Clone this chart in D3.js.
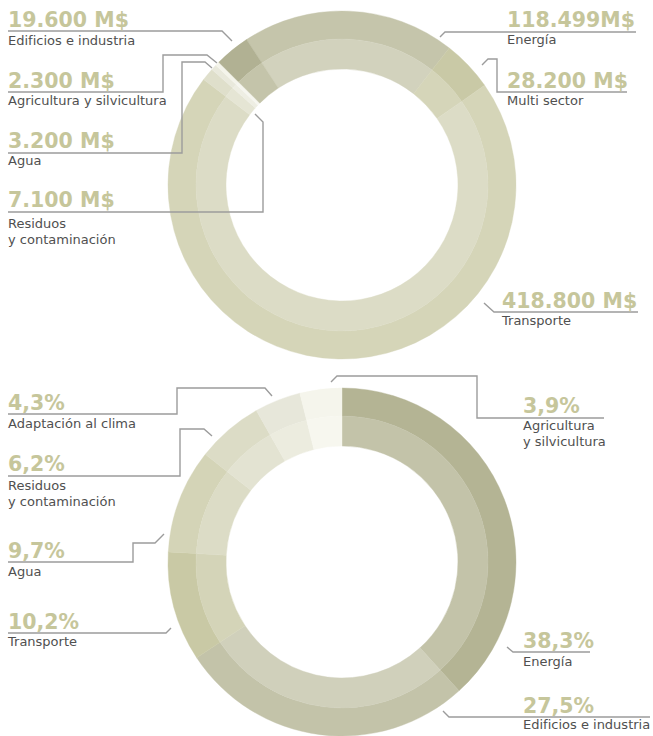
<!DOCTYPE html>
<html lang="es">
<head>
<meta charset="utf-8">
<script src="https://cdn.jsdelivr.net/npm/d3@7/dist/d3.min.js"></script>
<style>
  html, body { margin: 0; padding: 0; background: #fff; }
  svg { display: block; }
  .num { font-family: "DejaVu Sans", sans-serif; font-weight: bold; font-size: 20.5px; fill: #c6c69b; }
  .lab { font-family: "DejaVu Sans", sans-serif; font-size: 13px; fill: #505050; }
  .leader { fill: none; stroke: #9c9c9c; stroke-width: 1.4; }
</style>
</head>
<body>
<svg id="chart" width="653" height="736"></svg>
<script>
// ---- Inversión por sector (millones de dólares) ----
const investCategories = ["Energía", "Multi sector", "Transporte", "Residuos\ny contaminación", "Agua", "Agricultura y silvicultura", "Edificios e industria"];
const investValues = [118499, 28200, 418800, 7100, 3200, 2300, 19600];
const investUnits = ["M$", " M$", " M$", " M$", " M$", " M$", " M$"];

// ---- Reparto porcentual por sector ----
const shareCategories = ["Energía", "Edificios e industria", "Transporte", "Agua", "Residuos\ny contaminación", "Adaptación al clima", "Agricultura\ny silvicultura"];
const shareValues = [38.3, 27.5, 10.2, 9.7, 6.2, 4.3, 3.9];

// ---- Colores (anillo exterior / anillo interior) ----
const investOuter = ["#c5c5ab", "#c9c9a6", "#d5d5b8", "#dfdfcb", "#e9e9dc", "#f4f4eb", "#b1b193"];
const investInner = ["#d2d2bd", "#d5d5b9", "#dcdcc6", "#e5e5d4", "#eeeee3", "#f6f6ef", "#c4c4aa"];
const shareOuter = ["#b4b494", "#c3c3a9", "#c9c9a5", "#d4d4b7", "#dcdcc6", "#e7e7da", "#f5f5ec"];
const shareInner = ["#c3c3a9", "#d0d0bb", "#d4d4b8", "#dcdcc6", "#e3e3d2", "#ececdf", "#f7f7ef"];

// ---- Posición de rótulos y líneas guía ----
const investLayout = [
  { x: 507, numY: 27,  labY: 44,  guide: [[636, 32], [445, 32], [440, 37]] },
  { x: 507, numY: 88,  labY: 105, guide: [[627, 92], [497, 92], [497, 59], [488, 59], [482, 65]] },
  { x: 502, numY: 308, labY: 325, guide: [[638, 312], [494, 312], [484, 303]] },
  { x: 8,   numY: 207, labY: 228, guide: [[8, 212], [263, 212], [263, 122], [255, 114]] },
  { x: 8,   numY: 148, labY: 165, guide: [[8, 153], [182, 153], [182, 62], [205, 62], [212, 68]] },
  { x: 8,   numY: 88,  labY: 105, guide: [[8, 92], [163, 92], [163, 55], [207, 55], [217, 63]] },
  { x: 8,   numY: 27,  labY: 45,  guide: [[8, 31], [222, 31], [232, 41]] }
];
const shareLayout = [
  { x: 523, numY: 648, labY: 666, guide: [[590, 652], [513, 652], [507, 647]] },
  { x: 523, numY: 713, labY: 729, guide: [[650, 717], [449, 717], [443, 711]] },
  { x: 8,   numY: 629, labY: 646, guide: [[8, 633], [166, 633], [171, 628]] },
  { x: 8,   numY: 558, labY: 576, guide: [[8, 562], [133, 562], [133, 543], [155, 543], [164, 534]] },
  { x: 8,   numY: 471, labY: 490, guide: [[8, 476], [180, 476], [180, 429], [204, 429], [212, 436]] },
  { x: 8,   numY: 410, labY: 428, guide: [[8, 414], [177, 414], [177, 388], [265, 388], [272, 396]] },
  { x: 523, numY: 413, labY: 430, guide: [[604, 418], [477, 418], [477, 376], [337, 376], [331, 382]] }
];

const svg = d3.select("#chart");
const esLocale = d3.formatLocale({ decimal: ",", thousands: ".", grouping: [3], currency: ["", ""] });
const fmtMoney = esLocale.format(",d");
const fmtPct = esLocale.format(".1f");

const rings = { hole: 116, mid: 146, outer: 174 };
const deg = Math.PI / 180;

// Two-band donut: darker outer band, lighter inner band, same angles.
function donut({ cx, cy, values, startDeg, outerColors, innerColors }) {
  const pie = d3.pie().sort(null).value(d => d)
    .startAngle(startDeg * deg).endAngle(startDeg * deg + 2 * Math.PI);
  const arcs = pie(values);
  const g = svg.append("g").attr("transform", `translate(${cx},${cy})`);
  const outerArc = d3.arc().innerRadius(rings.mid).outerRadius(rings.outer);
  const innerArc = d3.arc().innerRadius(rings.hole).outerRadius(rings.mid);
  g.selectAll("path.o").data(arcs).join("path").attr("class", "o")
    .attr("d", outerArc).attr("fill", (d, i) => outerColors[i])
    .attr("stroke", (d, i) => outerColors[i]).attr("stroke-width", 0.4);
  g.selectAll("path.i").data(arcs).join("path").attr("class", "i")
    .attr("d", innerArc).attr("fill", (d, i) => innerColors[i])
    .attr("stroke", (d, i) => innerColors[i]).attr("stroke-width", 0.4);
}

function labels(categories, texts, layout) {
  const line = d3.line();
  const g = svg.append("g");
  layout.forEach((L, i) => {
    g.append("path").attr("class", "leader").attr("d", line(L.guide));
    g.append("text").attr("class", "num").attr("x", L.x).attr("y", L.numY).text(texts[i]);
    const t = g.append("text").attr("class", "lab").attr("x", L.x).attr("y", L.labY);
    categories[i].split("\n").forEach((s, k) => {
      t.append("tspan").attr("x", L.x).attr("dy", k === 0 ? 0 : 16).text(s);
    });
  });
}

donut({ cx: 342, cy: 185, values: investValues, startDeg: -33.3, outerColors: investOuter, innerColors: investInner });
donut({ cx: 342, cy: 562, values: shareValues, startDeg: 0, outerColors: shareOuter, innerColors: shareInner });

labels(investCategories, investValues.map((v, i) => fmtMoney(v) + investUnits[i]), investLayout);
labels(shareCategories, shareValues.map(v => fmtPct(v) + "%"), shareLayout);
</script>
</body>
</html>
